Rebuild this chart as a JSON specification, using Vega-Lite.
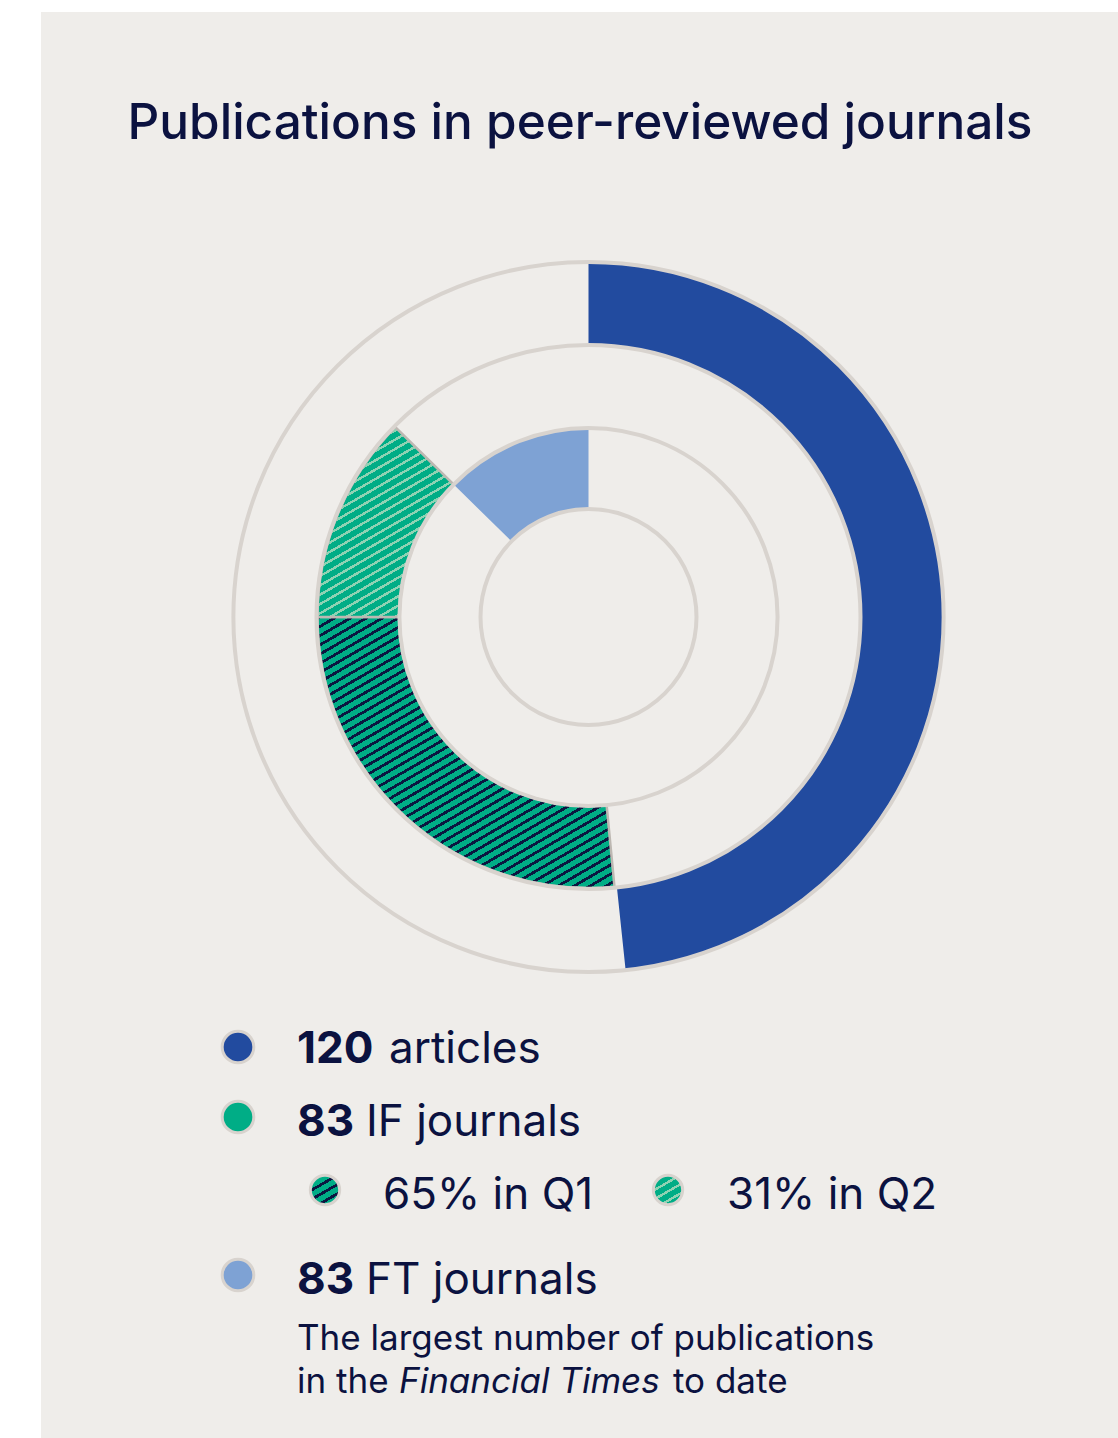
{
  "$schema": "https://vega.github.io/schema/vega-lite/v6.json",
  "width": 1077,
  "height": 1426,
  "autosize": {"type": "none"},
  "padding": {"left": 41, "top": 12, "right": 0, "bottom": 0},
  "background": "#ffffff",
  "config": {
    "view": {"fill": "#efedea", "stroke": null},
    "text": {"font": "Inter", "color": "#0b1240"}
  },
  "datasets": {
    "segments": [
      {"ring": "articles", "segment": "120 articles", "start": 0, "end": 174},
      {"ring": "IF", "segment": "Q1", "start": 174.5, "end": 270},
      {"ring": "IF", "segment": "Q2", "start": 270, "end": 314.5},
      {"ring": "FT", "segment": "83 FT journals", "start": 314.5, "end": 360}
    ],
    "guides": [
      {"circle": "outer", "start": 0, "end": 360},
      {"circle": "middle", "start": 0, "end": 360},
      {"circle": "inner", "start": 0, "end": 360},
      {"circle": "core", "start": 0, "end": 360}
    ],
    "legend": [
      {"key": "articles", "num": "120", "label": "articles"},
      {"key": "IF", "num": "83", "label": "IF journals"},
      {"key": "Q1", "num": "", "label": "65% in Q1"},
      {"key": "Q2", "num": "", "label": "31% in Q2"},
      {"key": "FT", "num": "83", "label": "FT journals"}
    ],
    "note": [
      {"part": "line1", "text": "The largest number of publications"},
      {"part": "line2a", "text": "in the"},
      {"part": "line2b", "text": "Financial Times"},
      {"part": "line2c", "text": "to date"}
    ],
    "heading": [{"text": "Publications in peer-reviewed journals"}]
  },
  "layer": [
    {
      "data": {"name": "segments"},
      "transform": [{"filter": "datum.ring == 'articles'"}],
      "mark": {"type": "arc", "outerRadius": 354, "innerRadius": 271, "fill": "#224b9f"},
      "encoding": {
        "x": {"datum": 0, "type": "quantitative", "scale": {"domain": [-547.5, 529.5], "nice": false, "zero": false}, "axis": null},
        "y": {"datum": 0, "type": "quantitative", "scale": {"domain": [-605, 821], "nice": false, "zero": false, "reverse": true}, "axis": null},
        "theta": {"field": "start", "type": "quantitative", "stack": null, "scale": {"domain": [0, 360], "range": [0, 6.283185307179586]}},
        "theta2": {"field": "end"}
      }
    },
    {
      "data": {"name": "segments"},
      "transform": [{"filter": "datum.segment == 'Q1'"}],
      "mark": {"type": "arc", "outerRadius": 271, "innerRadius": 189, "stroke": "#bdb8b2", "strokeWidth": 2.5,
        "fill": {"gradient": "linear", "x1": 0, "y1": 0, "x2": 0.771, "y2": 1.216, "stops": [
          {"offset":0,"color":"#0b1640"},{"offset":0.007,"color":"#0b1640"},{"offset":0.007,"color":"#00ad86"},{"offset":0.02,"color":"#00ad86"},
          {"offset":0.02,"color":"#0b1640"},{"offset":0.027,"color":"#0b1640"},{"offset":0.027,"color":"#00ad86"},{"offset":0.04,"color":"#00ad86"},
          {"offset":0.04,"color":"#0b1640"},{"offset":0.047,"color":"#0b1640"},{"offset":0.047,"color":"#00ad86"},{"offset":0.06,"color":"#00ad86"},
          {"offset":0.06,"color":"#0b1640"},{"offset":0.067,"color":"#0b1640"},{"offset":0.067,"color":"#00ad86"},{"offset":0.08,"color":"#00ad86"},
          {"offset":0.08,"color":"#0b1640"},{"offset":0.087,"color":"#0b1640"},{"offset":0.087,"color":"#00ad86"},{"offset":0.1,"color":"#00ad86"},
          {"offset":0.1,"color":"#0b1640"},{"offset":0.107,"color":"#0b1640"},{"offset":0.107,"color":"#00ad86"},{"offset":0.12,"color":"#00ad86"},
          {"offset":0.12,"color":"#0b1640"},{"offset":0.127,"color":"#0b1640"},{"offset":0.127,"color":"#00ad86"},{"offset":0.14,"color":"#00ad86"},
          {"offset":0.14,"color":"#0b1640"},{"offset":0.147,"color":"#0b1640"},{"offset":0.147,"color":"#00ad86"},{"offset":0.16,"color":"#00ad86"},
          {"offset":0.16,"color":"#0b1640"},{"offset":0.167,"color":"#0b1640"},{"offset":0.167,"color":"#00ad86"},{"offset":0.18,"color":"#00ad86"},
          {"offset":0.18,"color":"#0b1640"},{"offset":0.187,"color":"#0b1640"},{"offset":0.187,"color":"#00ad86"},{"offset":0.2,"color":"#00ad86"},
          {"offset":0.2,"color":"#0b1640"},{"offset":0.207,"color":"#0b1640"},{"offset":0.207,"color":"#00ad86"},{"offset":0.22,"color":"#00ad86"},
          {"offset":0.22,"color":"#0b1640"},{"offset":0.227,"color":"#0b1640"},{"offset":0.227,"color":"#00ad86"},{"offset":0.24,"color":"#00ad86"},
          {"offset":0.24,"color":"#0b1640"},{"offset":0.247,"color":"#0b1640"},{"offset":0.247,"color":"#00ad86"},{"offset":0.26,"color":"#00ad86"},
          {"offset":0.26,"color":"#0b1640"},{"offset":0.267,"color":"#0b1640"},{"offset":0.267,"color":"#00ad86"},{"offset":0.28,"color":"#00ad86"},
          {"offset":0.28,"color":"#0b1640"},{"offset":0.287,"color":"#0b1640"},{"offset":0.287,"color":"#00ad86"},{"offset":0.3,"color":"#00ad86"},
          {"offset":0.3,"color":"#0b1640"},{"offset":0.307,"color":"#0b1640"},{"offset":0.307,"color":"#00ad86"},{"offset":0.32,"color":"#00ad86"},
          {"offset":0.32,"color":"#0b1640"},{"offset":0.327,"color":"#0b1640"},{"offset":0.327,"color":"#00ad86"},{"offset":0.34,"color":"#00ad86"},
          {"offset":0.34,"color":"#0b1640"},{"offset":0.347,"color":"#0b1640"},{"offset":0.347,"color":"#00ad86"},{"offset":0.36,"color":"#00ad86"},
          {"offset":0.36,"color":"#0b1640"},{"offset":0.367,"color":"#0b1640"},{"offset":0.367,"color":"#00ad86"},{"offset":0.38,"color":"#00ad86"},
          {"offset":0.38,"color":"#0b1640"},{"offset":0.387,"color":"#0b1640"},{"offset":0.387,"color":"#00ad86"},{"offset":0.4,"color":"#00ad86"},
          {"offset":0.4,"color":"#0b1640"},{"offset":0.407,"color":"#0b1640"},{"offset":0.407,"color":"#00ad86"},{"offset":0.42,"color":"#00ad86"},
          {"offset":0.42,"color":"#0b1640"},{"offset":0.427,"color":"#0b1640"},{"offset":0.427,"color":"#00ad86"},{"offset":0.44,"color":"#00ad86"},
          {"offset":0.44,"color":"#0b1640"},{"offset":0.447,"color":"#0b1640"},{"offset":0.447,"color":"#00ad86"},{"offset":0.46,"color":"#00ad86"},
          {"offset":0.46,"color":"#0b1640"},{"offset":0.467,"color":"#0b1640"},{"offset":0.467,"color":"#00ad86"},{"offset":0.48,"color":"#00ad86"},
          {"offset":0.48,"color":"#0b1640"},{"offset":0.487,"color":"#0b1640"},{"offset":0.487,"color":"#00ad86"},{"offset":0.5,"color":"#00ad86"},
          {"offset":0.5,"color":"#0b1640"},{"offset":0.507,"color":"#0b1640"},{"offset":0.507,"color":"#00ad86"},{"offset":0.52,"color":"#00ad86"},
          {"offset":0.52,"color":"#0b1640"},{"offset":0.527,"color":"#0b1640"},{"offset":0.527,"color":"#00ad86"},{"offset":0.54,"color":"#00ad86"},
          {"offset":0.54,"color":"#0b1640"},{"offset":0.547,"color":"#0b1640"},{"offset":0.547,"color":"#00ad86"},{"offset":0.56,"color":"#00ad86"},
          {"offset":0.56,"color":"#0b1640"},{"offset":0.567,"color":"#0b1640"},{"offset":0.567,"color":"#00ad86"},{"offset":0.58,"color":"#00ad86"},
          {"offset":0.58,"color":"#0b1640"},{"offset":0.587,"color":"#0b1640"},{"offset":0.587,"color":"#00ad86"},{"offset":0.6,"color":"#00ad86"},
          {"offset":0.6,"color":"#0b1640"},{"offset":0.607,"color":"#0b1640"},{"offset":0.607,"color":"#00ad86"},{"offset":0.62,"color":"#00ad86"},
          {"offset":0.62,"color":"#0b1640"},{"offset":0.627,"color":"#0b1640"},{"offset":0.627,"color":"#00ad86"},{"offset":0.64,"color":"#00ad86"},
          {"offset":0.64,"color":"#0b1640"},{"offset":0.647,"color":"#0b1640"},{"offset":0.647,"color":"#00ad86"},{"offset":0.66,"color":"#00ad86"},
          {"offset":0.66,"color":"#0b1640"},{"offset":0.667,"color":"#0b1640"},{"offset":0.667,"color":"#00ad86"},{"offset":0.68,"color":"#00ad86"},
          {"offset":0.68,"color":"#0b1640"},{"offset":0.687,"color":"#0b1640"},{"offset":0.687,"color":"#00ad86"},{"offset":0.7,"color":"#00ad86"},
          {"offset":0.7,"color":"#0b1640"},{"offset":0.707,"color":"#0b1640"},{"offset":0.707,"color":"#00ad86"},{"offset":0.72,"color":"#00ad86"},
          {"offset":0.72,"color":"#0b1640"},{"offset":0.727,"color":"#0b1640"},{"offset":0.727,"color":"#00ad86"},{"offset":0.74,"color":"#00ad86"},
          {"offset":0.74,"color":"#0b1640"},{"offset":0.747,"color":"#0b1640"},{"offset":0.747,"color":"#00ad86"},{"offset":0.76,"color":"#00ad86"},
          {"offset":0.76,"color":"#0b1640"},{"offset":0.767,"color":"#0b1640"},{"offset":0.767,"color":"#00ad86"},{"offset":0.78,"color":"#00ad86"},
          {"offset":0.78,"color":"#0b1640"},{"offset":0.787,"color":"#0b1640"},{"offset":0.787,"color":"#00ad86"},{"offset":0.8,"color":"#00ad86"},
          {"offset":0.8,"color":"#0b1640"},{"offset":0.807,"color":"#0b1640"},{"offset":0.807,"color":"#00ad86"},{"offset":0.82,"color":"#00ad86"},
          {"offset":0.82,"color":"#0b1640"},{"offset":0.827,"color":"#0b1640"},{"offset":0.827,"color":"#00ad86"},{"offset":0.84,"color":"#00ad86"},
          {"offset":0.84,"color":"#0b1640"},{"offset":0.847,"color":"#0b1640"},{"offset":0.847,"color":"#00ad86"},{"offset":0.86,"color":"#00ad86"},
          {"offset":0.86,"color":"#0b1640"},{"offset":0.867,"color":"#0b1640"},{"offset":0.867,"color":"#00ad86"},{"offset":0.88,"color":"#00ad86"},
          {"offset":0.88,"color":"#0b1640"},{"offset":0.887,"color":"#0b1640"},{"offset":0.887,"color":"#00ad86"},{"offset":0.9,"color":"#00ad86"},
          {"offset":0.9,"color":"#0b1640"},{"offset":0.907,"color":"#0b1640"},{"offset":0.907,"color":"#00ad86"},{"offset":0.92,"color":"#00ad86"},
          {"offset":0.92,"color":"#0b1640"},{"offset":0.927,"color":"#0b1640"},{"offset":0.927,"color":"#00ad86"},{"offset":0.94,"color":"#00ad86"},
          {"offset":0.94,"color":"#0b1640"},{"offset":0.947,"color":"#0b1640"},{"offset":0.947,"color":"#00ad86"},{"offset":0.96,"color":"#00ad86"},
          {"offset":0.96,"color":"#0b1640"},{"offset":0.967,"color":"#0b1640"},{"offset":0.967,"color":"#00ad86"},{"offset":0.98,"color":"#00ad86"},
          {"offset":0.98,"color":"#0b1640"},{"offset":0.987,"color":"#0b1640"},{"offset":0.987,"color":"#00ad86"},{"offset":1,"color":"#00ad86"}
        ]}},
      "encoding": {
        "x": {"datum": 0, "type": "quantitative", "axis": null},
        "y": {"datum": 0, "type": "quantitative", "axis": null},
        "theta": {"field": "start", "type": "quantitative", "stack": null},
        "theta2": {"field": "end"}
      }
    },
    {
      "data": {"name": "segments"},
      "transform": [{"filter": "datum.segment == 'Q2'"}],
      "mark": {"type": "arc", "outerRadius": 271, "innerRadius": 189, "stroke": "#bdb8b2", "strokeWidth": 2.5,
        "fill": {"gradient": "linear", "x1": 0, "y1": 0, "x2": 0.577, "y2": 1.397, "stops": [
          {"offset":0,"color":"#8fd2b3"},{"offset":0.009,"color":"#8fd2b3"},{"offset":0.009,"color":"#00ad86"},{"offset":0.03,"color":"#00ad86"},
          {"offset":0.03,"color":"#8fd2b3"},{"offset":0.039,"color":"#8fd2b3"},{"offset":0.039,"color":"#00ad86"},{"offset":0.06,"color":"#00ad86"},
          {"offset":0.06,"color":"#8fd2b3"},{"offset":0.069,"color":"#8fd2b3"},{"offset":0.069,"color":"#00ad86"},{"offset":0.09,"color":"#00ad86"},
          {"offset":0.09,"color":"#8fd2b3"},{"offset":0.099,"color":"#8fd2b3"},{"offset":0.099,"color":"#00ad86"},{"offset":0.12,"color":"#00ad86"},
          {"offset":0.12,"color":"#8fd2b3"},{"offset":0.129,"color":"#8fd2b3"},{"offset":0.129,"color":"#00ad86"},{"offset":0.15,"color":"#00ad86"},
          {"offset":0.15,"color":"#8fd2b3"},{"offset":0.159,"color":"#8fd2b3"},{"offset":0.159,"color":"#00ad86"},{"offset":0.18,"color":"#00ad86"},
          {"offset":0.18,"color":"#8fd2b3"},{"offset":0.189,"color":"#8fd2b3"},{"offset":0.189,"color":"#00ad86"},{"offset":0.21,"color":"#00ad86"},
          {"offset":0.21,"color":"#8fd2b3"},{"offset":0.219,"color":"#8fd2b3"},{"offset":0.219,"color":"#00ad86"},{"offset":0.24,"color":"#00ad86"},
          {"offset":0.24,"color":"#8fd2b3"},{"offset":0.249,"color":"#8fd2b3"},{"offset":0.249,"color":"#00ad86"},{"offset":0.27,"color":"#00ad86"},
          {"offset":0.27,"color":"#8fd2b3"},{"offset":0.279,"color":"#8fd2b3"},{"offset":0.279,"color":"#00ad86"},{"offset":0.3,"color":"#00ad86"},
          {"offset":0.3,"color":"#8fd2b3"},{"offset":0.309,"color":"#8fd2b3"},{"offset":0.309,"color":"#00ad86"},{"offset":0.33,"color":"#00ad86"},
          {"offset":0.33,"color":"#8fd2b3"},{"offset":0.339,"color":"#8fd2b3"},{"offset":0.339,"color":"#00ad86"},{"offset":0.36,"color":"#00ad86"},
          {"offset":0.36,"color":"#8fd2b3"},{"offset":0.369,"color":"#8fd2b3"},{"offset":0.369,"color":"#00ad86"},{"offset":0.39,"color":"#00ad86"},
          {"offset":0.39,"color":"#8fd2b3"},{"offset":0.399,"color":"#8fd2b3"},{"offset":0.399,"color":"#00ad86"},{"offset":0.42,"color":"#00ad86"},
          {"offset":0.42,"color":"#8fd2b3"},{"offset":0.429,"color":"#8fd2b3"},{"offset":0.429,"color":"#00ad86"},{"offset":0.45,"color":"#00ad86"},
          {"offset":0.45,"color":"#8fd2b3"},{"offset":0.459,"color":"#8fd2b3"},{"offset":0.459,"color":"#00ad86"},{"offset":0.48,"color":"#00ad86"},
          {"offset":0.48,"color":"#8fd2b3"},{"offset":0.489,"color":"#8fd2b3"},{"offset":0.489,"color":"#00ad86"},{"offset":0.51,"color":"#00ad86"},
          {"offset":0.51,"color":"#8fd2b3"},{"offset":0.519,"color":"#8fd2b3"},{"offset":0.519,"color":"#00ad86"},{"offset":0.54,"color":"#00ad86"},
          {"offset":0.54,"color":"#8fd2b3"},{"offset":0.549,"color":"#8fd2b3"},{"offset":0.549,"color":"#00ad86"},{"offset":0.57,"color":"#00ad86"},
          {"offset":0.57,"color":"#8fd2b3"},{"offset":0.579,"color":"#8fd2b3"},{"offset":0.579,"color":"#00ad86"},{"offset":0.6,"color":"#00ad86"},
          {"offset":0.6,"color":"#8fd2b3"},{"offset":0.609,"color":"#8fd2b3"},{"offset":0.609,"color":"#00ad86"},{"offset":0.63,"color":"#00ad86"},
          {"offset":0.63,"color":"#8fd2b3"},{"offset":0.639,"color":"#8fd2b3"},{"offset":0.639,"color":"#00ad86"},{"offset":0.66,"color":"#00ad86"},
          {"offset":0.66,"color":"#8fd2b3"},{"offset":0.669,"color":"#8fd2b3"},{"offset":0.669,"color":"#00ad86"},{"offset":0.69,"color":"#00ad86"},
          {"offset":0.69,"color":"#8fd2b3"},{"offset":0.699,"color":"#8fd2b3"},{"offset":0.699,"color":"#00ad86"},{"offset":0.72,"color":"#00ad86"},
          {"offset":0.72,"color":"#8fd2b3"},{"offset":0.729,"color":"#8fd2b3"},{"offset":0.729,"color":"#00ad86"},{"offset":0.75,"color":"#00ad86"},
          {"offset":0.75,"color":"#8fd2b3"},{"offset":0.759,"color":"#8fd2b3"},{"offset":0.759,"color":"#00ad86"},{"offset":0.78,"color":"#00ad86"},
          {"offset":0.78,"color":"#8fd2b3"},{"offset":0.789,"color":"#8fd2b3"},{"offset":0.789,"color":"#00ad86"},{"offset":0.81,"color":"#00ad86"},
          {"offset":0.81,"color":"#8fd2b3"},{"offset":0.819,"color":"#8fd2b3"},{"offset":0.819,"color":"#00ad86"},{"offset":0.84,"color":"#00ad86"},
          {"offset":0.84,"color":"#8fd2b3"},{"offset":0.849,"color":"#8fd2b3"},{"offset":0.849,"color":"#00ad86"},{"offset":0.87,"color":"#00ad86"},
          {"offset":0.87,"color":"#8fd2b3"},{"offset":0.879,"color":"#8fd2b3"},{"offset":0.879,"color":"#00ad86"},{"offset":1,"color":"#00ad86"}
        ]}},
      "encoding": {
        "x": {"datum": 0, "type": "quantitative", "axis": null},
        "y": {"datum": 0, "type": "quantitative", "axis": null},
        "theta": {"field": "start", "type": "quantitative", "stack": null},
        "theta2": {"field": "end"}
      }
    },
    {
      "data": {"name": "segments"},
      "transform": [{"filter": "datum.ring == 'FT'"}],
      "mark": {"type": "arc", "outerRadius": 189, "innerRadius": 109, "fill": "#7ea2d4"},
      "encoding": {
        "x": {"datum": 0, "type": "quantitative", "axis": null},
        "y": {"datum": 0, "type": "quantitative", "axis": null},
        "theta": {"field": "start", "type": "quantitative", "stack": null},
        "theta2": {"field": "end"}
      }
    },
    {
      "data": {"name": "guides"},
      "transform": [{"filter": "datum.circle == 'outer'"}],
      "mark": {"type": "arc", "outerRadius": 355, "innerRadius": 0, "fill": null, "fillOpacity": 0, "stroke": "#d8d3ce", "strokeWidth": 4},
      "encoding": {
        "x": {"datum": 0, "type": "quantitative", "axis": null},
        "y": {"datum": 0, "type": "quantitative", "axis": null},
        "theta": {"field": "start", "type": "quantitative", "stack": null},
        "theta2": {"field": "end"}
      }
    },
    {
      "data": {"name": "guides"},
      "transform": [{"filter": "datum.circle == 'middle'"}],
      "mark": {"type": "arc", "outerRadius": 272, "innerRadius": 0, "fill": null, "fillOpacity": 0, "stroke": "#d8d3ce", "strokeWidth": 4},
      "encoding": {
        "x": {"datum": 0, "type": "quantitative", "axis": null},
        "y": {"datum": 0, "type": "quantitative", "axis": null},
        "theta": {"field": "start", "type": "quantitative", "stack": null},
        "theta2": {"field": "end"}
      }
    },
    {
      "data": {"name": "guides"},
      "transform": [{"filter": "datum.circle == 'inner'"}],
      "mark": {"type": "arc", "outerRadius": 189, "innerRadius": 0, "fill": null, "fillOpacity": 0, "stroke": "#d8d3ce", "strokeWidth": 4},
      "encoding": {
        "x": {"datum": 0, "type": "quantitative", "axis": null},
        "y": {"datum": 0, "type": "quantitative", "axis": null},
        "theta": {"field": "start", "type": "quantitative", "stack": null},
        "theta2": {"field": "end"}
      }
    },
    {
      "data": {"name": "guides"},
      "transform": [{"filter": "datum.circle == 'core'"}],
      "mark": {"type": "arc", "outerRadius": 108, "innerRadius": 0, "fill": null, "fillOpacity": 0, "stroke": "#d8d3ce", "strokeWidth": 4},
      "encoding": {
        "x": {"datum": 0, "type": "quantitative", "axis": null},
        "y": {"datum": 0, "type": "quantitative", "axis": null},
        "theta": {"field": "start", "type": "quantitative", "stack": null},
        "theta2": {"field": "end"}
      }
    },
    {
      "data": {"name": "heading"},
      "mark": {"type": "text", "fontSize": 49.5, "fontWeight": 500, "align": "center", "baseline": "alphabetic"},
      "encoding": {
        "x": {"datum": -8.5, "type": "quantitative", "axis": null},
        "y": {"datum": -478, "type": "quantitative", "axis": null},
        "text": {"field": "text"}
      }
    },
    {
      "data": {"name": "legend"},
      "transform": [{"filter": "datum.key == 'articles'"}],
      "mark": {"type": "point", "shape": "circle", "filled": true, "size": 1000, "fill": "#224b9f", "stroke": "#d8d3ce", "strokeWidth": 3, "opacity": 1},
      "encoding": {
        "x": {"datum": -350.5, "type": "quantitative", "axis": null},
        "y": {"datum": 430, "type": "quantitative", "axis": null}
      }
    },
    {
      "data": {"name": "legend"},
      "transform": [{"filter": "datum.key == 'IF'"}],
      "mark": {"type": "point", "shape": "circle", "filled": true, "size": 1000, "fill": "#00ad86", "stroke": "#d8d3ce", "strokeWidth": 3, "opacity": 1},
      "encoding": {
        "x": {"datum": -350.5, "type": "quantitative", "axis": null},
        "y": {"datum": 500, "type": "quantitative", "axis": null}
      }
    },
    {
      "data": {"name": "legend"},
      "transform": [{"filter": "datum.key == 'FT'"}],
      "mark": {"type": "point", "shape": "circle", "filled": true, "size": 1000, "fill": "#7ea2d4", "stroke": "#d8d3ce", "strokeWidth": 3, "opacity": 1},
      "encoding": {
        "x": {"datum": -350.5, "type": "quantitative", "axis": null},
        "y": {"datum": 658, "type": "quantitative", "axis": null}
      }
    },
    {
      "data": {"name": "legend"},
      "transform": [{"filter": "datum.key == 'Q1'"}],
      "mark": {"type": "point", "shape": "circle", "filled": true, "size": 860, "stroke": "#d8d3ce", "strokeWidth": 3, "opacity": 1,
        "fill": {"gradient": "linear", "x1": 0, "y1": 0, "x2": 0.683, "y2": 1.183, "stops": [
          {"offset":0,"color":"#00ad86"},{"offset":0.1,"color":"#00ad86"},{"offset":0.1,"color":"#0b1640"},{"offset":0.17,"color":"#0b1640"},
          {"offset":0.17,"color":"#00ad86"},{"offset":0.3,"color":"#00ad86"},{"offset":0.3,"color":"#0b1640"},{"offset":0.37,"color":"#0b1640"},
          {"offset":0.37,"color":"#00ad86"},{"offset":0.5,"color":"#00ad86"},{"offset":0.5,"color":"#0b1640"},{"offset":0.57,"color":"#0b1640"},
          {"offset":0.57,"color":"#00ad86"},{"offset":0.7,"color":"#00ad86"},{"offset":0.7,"color":"#0b1640"},{"offset":0.77,"color":"#0b1640"},
          {"offset":0.77,"color":"#00ad86"},{"offset":0.9,"color":"#00ad86"},{"offset":0.9,"color":"#0b1640"},{"offset":0.97,"color":"#0b1640"},
          {"offset":0.97,"color":"#00ad86"},{"offset":1,"color":"#00ad86"}
        ]}},
      "encoding": {
        "x": {"datum": -263.5, "type": "quantitative", "axis": null},
        "y": {"datum": 573, "type": "quantitative", "axis": null}
      }
    },
    {
      "data": {"name": "legend"},
      "transform": [{"filter": "datum.key == 'Q2'"}],
      "mark": {"type": "point", "shape": "circle", "filled": true, "size": 860, "stroke": "#d8d3ce", "strokeWidth": 3, "opacity": 1,
        "fill": {"gradient": "linear", "x1": 0, "y1": 0, "x2": 0.683, "y2": 1.183, "stops": [
          {"offset":0,"color":"#00ad86"},{"offset":0.1,"color":"#00ad86"},{"offset":0.1,"color":"#8fd2b3"},{"offset":0.16,"color":"#8fd2b3"},
          {"offset":0.16,"color":"#00ad86"},{"offset":0.3,"color":"#00ad86"},{"offset":0.3,"color":"#8fd2b3"},{"offset":0.36,"color":"#8fd2b3"},
          {"offset":0.36,"color":"#00ad86"},{"offset":0.5,"color":"#00ad86"},{"offset":0.5,"color":"#8fd2b3"},{"offset":0.56,"color":"#8fd2b3"},
          {"offset":0.56,"color":"#00ad86"},{"offset":0.7,"color":"#00ad86"},{"offset":0.7,"color":"#8fd2b3"},{"offset":0.76,"color":"#8fd2b3"},
          {"offset":0.76,"color":"#00ad86"},{"offset":0.9,"color":"#00ad86"},{"offset":0.9,"color":"#8fd2b3"},{"offset":0.96,"color":"#8fd2b3"},
          {"offset":0.96,"color":"#00ad86"},{"offset":1,"color":"#00ad86"}
        ]}},
      "encoding": {
        "x": {"datum": 79.5, "type": "quantitative", "axis": null},
        "y": {"datum": 573, "type": "quantitative", "axis": null}
      }
    },
    {
      "data": {"name": "legend"},
      "transform": [{"filter": "datum.key == 'articles'"}],
      "mark": {"type": "text", "fontSize": 44, "fontWeight": 700, "align": "left", "baseline": "alphabetic"},
      "encoding": {
        "x": {"datum": -291.5, "type": "quantitative", "axis": null},
        "y": {"datum": 446, "type": "quantitative", "axis": null},
        "text": {"field": "num"}
      }
    },
    {
      "data": {"name": "legend"},
      "transform": [{"filter": "datum.key == 'articles'"}],
      "mark": {"type": "text", "fontSize": 44, "fontWeight": 400, "align": "left", "baseline": "alphabetic"},
      "encoding": {
        "x": {"datum": -199.5, "type": "quantitative", "axis": null},
        "y": {"datum": 446, "type": "quantitative", "axis": null},
        "text": {"field": "label"}
      }
    },
    {
      "data": {"name": "legend"},
      "transform": [{"filter": "datum.key == 'IF'"}],
      "mark": {"type": "text", "fontSize": 44, "fontWeight": 700, "align": "left", "baseline": "alphabetic"},
      "encoding": {
        "x": {"datum": -291.5, "type": "quantitative", "axis": null},
        "y": {"datum": 519, "type": "quantitative", "axis": null},
        "text": {"field": "num"}
      }
    },
    {
      "data": {"name": "legend"},
      "transform": [{"filter": "datum.key == 'IF'"}],
      "mark": {"type": "text", "fontSize": 44, "fontWeight": 400, "align": "left", "baseline": "alphabetic"},
      "encoding": {
        "x": {"datum": -222.5, "type": "quantitative", "axis": null},
        "y": {"datum": 519, "type": "quantitative", "axis": null},
        "text": {"field": "label"}
      }
    },
    {
      "data": {"name": "legend"},
      "transform": [{"filter": "datum.key == 'Q1'"}],
      "mark": {"type": "text", "fontSize": 44, "fontWeight": 400, "align": "left", "baseline": "alphabetic"},
      "encoding": {
        "x": {"datum": -205.5, "type": "quantitative", "axis": null},
        "y": {"datum": 592, "type": "quantitative", "axis": null},
        "text": {"field": "label"}
      }
    },
    {
      "data": {"name": "legend"},
      "transform": [{"filter": "datum.key == 'Q2'"}],
      "mark": {"type": "text", "fontSize": 44, "fontWeight": 400, "align": "left", "baseline": "alphabetic"},
      "encoding": {
        "x": {"datum": 138.5, "type": "quantitative", "axis": null},
        "y": {"datum": 592, "type": "quantitative", "axis": null},
        "text": {"field": "label"}
      }
    },
    {
      "data": {"name": "legend"},
      "transform": [{"filter": "datum.key == 'FT'"}],
      "mark": {"type": "text", "fontSize": 44, "fontWeight": 700, "align": "left", "baseline": "alphabetic"},
      "encoding": {
        "x": {"datum": -291.5, "type": "quantitative", "axis": null},
        "y": {"datum": 677, "type": "quantitative", "axis": null},
        "text": {"field": "num"}
      }
    },
    {
      "data": {"name": "legend"},
      "transform": [{"filter": "datum.key == 'FT'"}],
      "mark": {"type": "text", "fontSize": 44, "fontWeight": 400, "align": "left", "baseline": "alphabetic"},
      "encoding": {
        "x": {"datum": -222.5, "type": "quantitative", "axis": null},
        "y": {"datum": 677, "type": "quantitative", "axis": null},
        "text": {"field": "label"}
      }
    },
    {
      "data": {"name": "note"},
      "transform": [{"filter": "datum.part == 'line1'"}],
      "mark": {"type": "text", "fontSize": 35, "fontWeight": 400, "align": "left", "baseline": "alphabetic"},
      "encoding": {
        "x": {"datum": -291.5, "type": "quantitative", "axis": null},
        "y": {"datum": 733, "type": "quantitative", "axis": null},
        "text": {"field": "text"}
      }
    },
    {
      "data": {"name": "note"},
      "transform": [{"filter": "datum.part == 'line2a'"}],
      "mark": {"type": "text", "fontSize": 35, "fontWeight": 400, "align": "left", "baseline": "alphabetic"},
      "encoding": {
        "x": {"datum": -291.5, "type": "quantitative", "axis": null},
        "y": {"datum": 776, "type": "quantitative", "axis": null},
        "text": {"field": "text"}
      }
    },
    {
      "data": {"name": "note"},
      "transform": [{"filter": "datum.part == 'line2b'"}],
      "mark": {"type": "text", "fontSize": 35, "fontWeight": 400, "fontStyle": "italic", "align": "left", "baseline": "alphabetic"},
      "encoding": {
        "x": {"datum": -189.5, "type": "quantitative", "axis": null},
        "y": {"datum": 776, "type": "quantitative", "axis": null},
        "text": {"field": "text"}
      }
    },
    {
      "data": {"name": "note"},
      "transform": [{"filter": "datum.part == 'line2c'"}],
      "mark": {"type": "text", "fontSize": 35, "fontWeight": 400, "align": "left", "baseline": "alphabetic"},
      "encoding": {
        "x": {"datum": 84.5, "type": "quantitative", "axis": null},
        "y": {"datum": 776, "type": "quantitative", "axis": null},
        "text": {"field": "text"}
      }
    }
  ]
}
